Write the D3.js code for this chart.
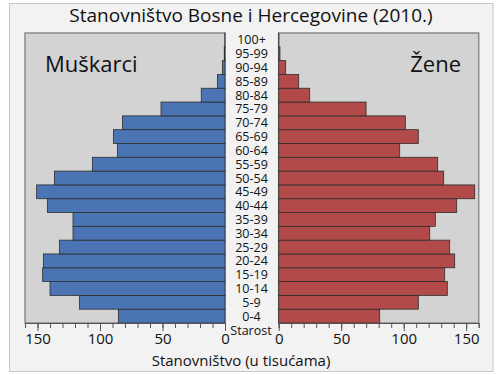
<!DOCTYPE html>
<html>
<head>
<meta charset="utf-8">
<script src="https://cdn.jsdelivr.net/npm/d3@7"></script>
<style>
  body { margin: 0; background: #fff; }
  svg { display: block; font-family: "Open Sans", "Noto Sans", sans-serif; }
</style>
</head>
<body>
<div id="chart"></div>
<script>
const ageGroups = ['0-4', '5-9', '10-14', '15-19', '20-24', '25-29', '30-34', '35-39',
  '40-44', '45-49', '50-54', '55-59', '60-64', '65-69', '70-74', '75-79', '80-84',
  '85-89', '90-94', '95-99', '100+']
const men = [85.3, 116.5, 140, 145.9, 145.3, 132.5, 121.6, 121.6, 142.1, 150.7, 136.5,
  106.1, 86.1, 89.3, 82, 51.2, 19, 6.1, 2.1, 0.6, 0.1]
const women = [80.8, 111.7, 134.9, 132.8, 140.8, 136.8, 120.8, 125.3, 142.4, 156.8, 132,
  127.2, 96.8, 111.7, 101.3, 69.9, 24.8, 16, 5.6, 1.0, 0.1]
const tickValues = [0, 50, 100, 150]

const width = 500
const height = 375
const panelTop = 33
const panelBottom = 323

const svg = d3.select('#chart').append('svg')
  .attr('width', width)
  .attr('height', height)

// outer frame
svg.append('rect')
  .attr('x', 9.5).attr('y', 3.5)
  .attr('width', 483.5).attr('height', 368)
  .attr('fill', '#f2f2f2')
  .attr('stroke', '#c8c8c8')

svg.append('text')
  .attr('x', 251).attr('y', 22)
  .attr('text-anchor', 'middle')
  .attr('font-size', 19)
  .attr('fill', '#111')
  .text('Stanovništvo Bosne i Hercegovine (2010.)')

const y = d3.scaleBand()
  .domain(ageGroups)
  .range([panelBottom, panelTop])
  .padding(0)

const xLeft = d3.scaleLinear().domain([0, 160]).range([225, 25])
const xRight = d3.scaleLinear().domain([0, 160]).range([278.7, 478.7])

function panel(x, values, color, label, labelX, anchor) {
  const g = svg.append('g')
  const [r0, r1] = x.range()
  g.append('rect')
    .attr('x', Math.min(r0, r1)).attr('y', panelTop)
    .attr('width', Math.abs(r1 - r0)).attr('height', panelBottom - panelTop)
    .attr('fill', '#d3d3d3')
    .attr('stroke', '#8a8a8a')
    .attr('stroke-width', 1.5)

  g.selectAll('.bar')
    .data(values)
    .join('rect')
    .attr('class', 'bar')
    .attr('x', d => Math.min(x(0), x(d)))
    .attr('y', (d, i) => y(ageGroups[i]))
    .attr('width', d => Math.abs(x(d) - x(0)))
    .attr('height', y.bandwidth())
    .attr('fill', color)
    .attr('stroke', '#2e2e2e')
    .attr('stroke-width', 0.8)

  g.append('text')
    .attr('x', labelX).attr('y', 72)
    .attr('text-anchor', anchor)
    .attr('font-size', 22)
    .attr('fill', '#111')
    .text(label)

  // minor ticks
  const minor = d3.axisBottom(x)
    .tickValues(d3.range(0, 161, 10))
    .tickSize(5)
    .tickFormat('')
  g.append('g')
    .attr('transform', 'translate(0,' + panelBottom + ')')
    .call(minor)
    .call(a => a.select('.domain').attr('stroke', '#555'))
    .call(a => a.selectAll('.tick line').attr('stroke', '#555'))

  const major = d3.axisBottom(x)
    .tickValues(tickValues)
    .tickSize(8)
    .tickSizeOuter(0)
  g.append('g')
    .attr('transform', 'translate(0,' + panelBottom + ')')
    .call(major)
    .call(a => a.select('.domain').remove())
    .call(a => a.selectAll('.tick line').attr('stroke', '#555'))
    .call(a => a.selectAll('.tick text')
      .attr('font-size', 15)
      .attr('font-family', '"Open Sans", sans-serif')
      .attr('fill', '#111')
      .attr('y', 10))
}

panel(xLeft, men, '#4a74b4', 'Muškarci', 45, 'start')
panel(xRight, women, '#b24a4a', 'Žene', 461, 'end')

svg.append('g')
  .selectAll('text')
  .data(ageGroups)
  .join('text')
  .attr('x', 251.5)
  .attr('y', d => y(d) + y.bandwidth() / 2 + 4.5)
  .attr('text-anchor', 'middle')
  .attr('font-size', 12.5)
  .attr('fill', '#111')
  .text(d => d)

svg.append('text')
  .attr('x', 251).attr('y', 335)
  .attr('text-anchor', 'middle')
  .attr('font-size', 12.5)
  .attr('fill', '#111')
  .text('Starost')

svg.append('text')
  .attr('x', 241).attr('y', 366)
  .attr('text-anchor', 'middle')
  .attr('font-size', 15)
  .attr('fill', '#111')
  .text('Stanovništvo (u tisućama)')
</script>
</body>
</html>
